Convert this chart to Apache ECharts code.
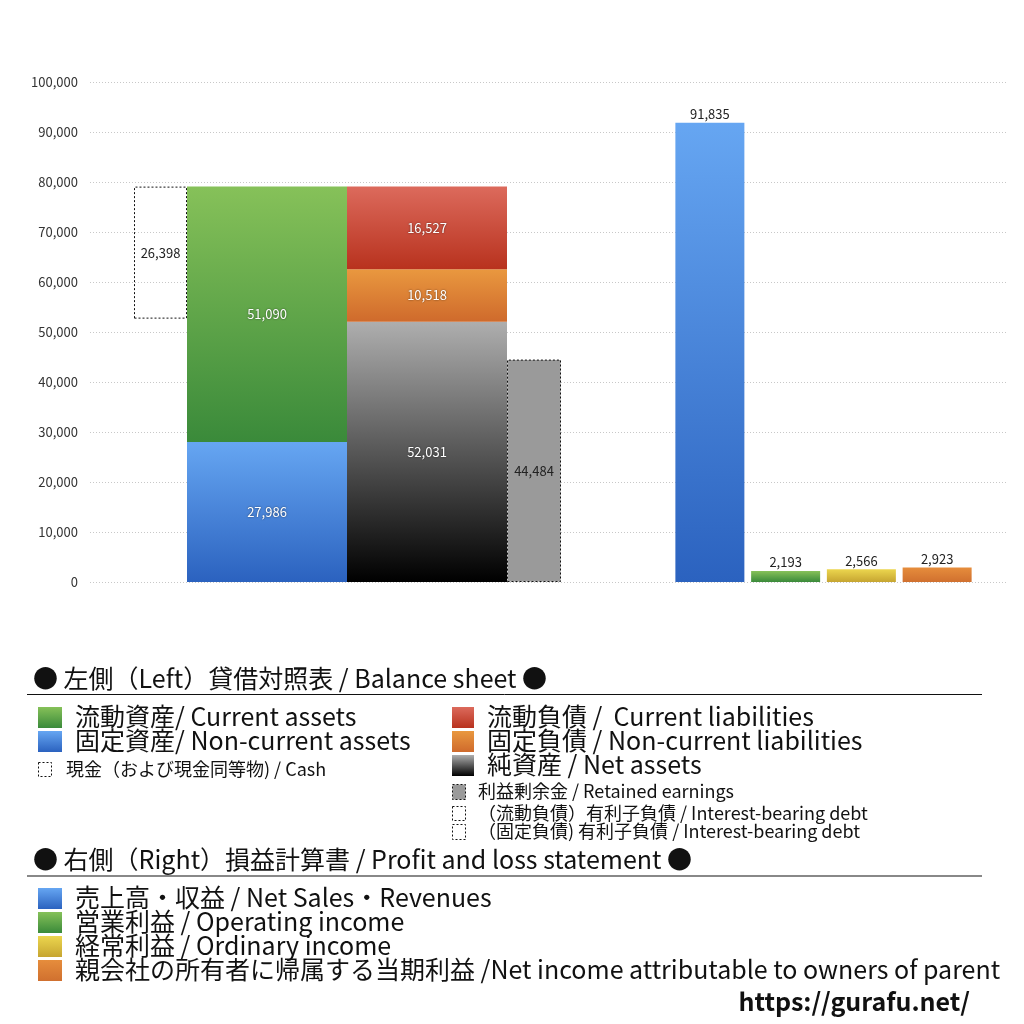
<!DOCTYPE html>
<html>
<head>
<meta charset="utf-8">
<script src="https://cdn.jsdelivr.net/npm/echarts@6/dist/echarts.min.js"></script>
<style>html,body{margin:0;padding:0;background:#fff;}#c{width:1024px;height:1024px;}</style>
</head>
<body>
<div id="c"></div>
<script>
// ---- data ----
const bsCategories = ['貸借対照表'];
const currentAssets = [51090];
const nonCurrentAssets = [27986];
const cash = [26398];
const currentLiabilities = [16527];
const nonCurrentLiabilities = [10518];
const netAssets = [52031];
const retainedEarnings = [44484];

const plCategories = ['売上高・収益', '営業利益', '経常利益', '親会社株主に帰属する当期利益'];
const plValues = [91835, 2193, 2566, 2923];

const yMin = 0, yMax = 100000, yInterval = 10000;

// ---- styles ----
const FONT = '"Noto Sans CJK JP", "Noto Sans", sans-serif';
const G = echarts.graphic.LinearGradient;
const grad = (a, b) => new G(0, 0, 0, 1, [{offset: 0, color: a}, {offset: 1, color: b}]);
const C = {
  green: ['#86c159', '#3a8a3a'],
  blue: ['#66a6f2', '#2b62bf'],
  red: ['#dc6a5c', '#b8321e'],
  orange: ['#e9983f', '#cf6a2c'],
  net: ['#aeaeae', '#000000'],
  yellow: ['#ecd64e', '#c6a531'],
  orange2: ['#e68d3c', '#d0702f']
};
const plColors = [C.blue, C.green, C.yellow, C.orange2];

const fmt = v => Number(v).toLocaleString('en-US');
const insideLabel = {
  show: true, position: 'inside', color: '#fff', fontSize: 13, fontFamily: FONT,
  textShadowColor: 'rgba(0,0,0,0.6)', textShadowBlur: 2,
  formatter: p => fmt(p.value)
};
const darkLabel = {
  show: true, position: 'inside', color: '#222', fontSize: 13, fontFamily: FONT,
  formatter: p => fmt(p.value)
};

const totalAssets = currentAssets.map((v, i) => v + nonCurrentAssets[i]);
const cashBase = totalAssets.map((v, i) => v - cash[i]);

const chart = echarts.init(document.getElementById('c'), null, {renderer: 'canvas'});

const hiddenY = gi => ({
  type: 'value', gridIndex: gi, min: yMin, max: yMax, interval: yInterval,
  show: false
});

const bsBar = (name, stack, data, width, itemStyle, label) => ({
  type: 'bar', name, stack, data, xAxisIndex: 1, yAxisIndex: 1,
  barWidth: width, barGap: '0%', itemStyle, label, emphasis: {disabled: true},
  silent: true
});

const option = {
  animation: false,
  backgroundColor: '#fff',
  grid: [
    {left: 90, right: 17, top: 82, bottom: 442, containLabel: false},
    {left: 90, width: 515, top: 82, bottom: 442},
    {left: 672, width: 303, top: 82, bottom: 442}
  ],
  xAxis: [
    {type: 'category', gridIndex: 0, data: ['a'], show: false},
    {type: 'category', gridIndex: 1, data: bsCategories, show: false},
    {type: 'category', gridIndex: 2, data: plCategories, show: false}
  ],
  yAxis: [
    {
      type: 'value', gridIndex: 0, min: yMin, max: yMax, interval: yInterval,
      axisLine: {show: false}, axisTick: {show: false},
      axisLabel: {color: '#333', fontSize: 13, fontFamily: FONT, margin: 12, formatter: v => fmt(v)},
      splitLine: {show: true, lineStyle: {color: '#c8c8c8', type: [1, 2], width: 1}}
    },
    hiddenY(1),
    hiddenY(2)
  ],
  series: [
    bsBar('cashBase', 'cash', cashBase, 53, {color: 'rgba(0,0,0,0)'}, {show: false}),
    bsBar('現金', 'cash', cash, 53,
      {color: 'rgba(255,255,255,0)', borderColor: '#111', borderWidth: 1, borderType: [2, 2]}, darkLabel),
    bsBar('固定資産', 'assets', nonCurrentAssets, 160, {color: grad(C.blue[0], C.blue[1])}, insideLabel),
    bsBar('流動資産', 'assets', currentAssets, 160, {color: grad(C.green[0], C.green[1])}, insideLabel),
    bsBar('純資産', 'liab', netAssets, 160, {color: grad(C.net[0], C.net[1])}, insideLabel),
    bsBar('固定負債', 'liab', nonCurrentLiabilities, 160, {color: grad(C.orange[0], C.orange[1])}, insideLabel),
    bsBar('流動負債', 'liab', currentLiabilities, 160, {color: grad(C.red[0], C.red[1])}, insideLabel),
    bsBar('利益剰余金', 'ret', retainedEarnings, 54,
      {color: '#9a9a9a', borderColor: '#111', borderWidth: 1, borderType: [2, 2]}, darkLabel),
    {
      type: 'bar', name: 'PL', xAxisIndex: 2, yAxisIndex: 2, barWidth: 69, silent: true,
      data: plValues.map((v, i) => ({value: v, itemStyle: {color: grad(plColors[i][0], plColors[i][1])}})),
      label: {show: true, position: 'top', distance: 2, color: '#222', fontSize: 13, fontFamily: FONT, formatter: p => fmt(p.value)}
    }
  ],
  graphic: []
};

// ---- legend (graphic) ----
const gr = option.graphic;
const txt = (x, y, text, size, extra) => gr.push({
  type: 'text', x, y: y - (size >= 22 ? 2 : 1),
  style: Object.assign({text, fontSize: size, fontFamily: FONT, fill: '#111', verticalAlign: 'middle', align: 'left'}, extra || {})
});
const sw = (x, y, w, h, fill, dashed) => gr.push({
  type: 'rect', shape: {x, y, width: w, height: h},
  style: dashed ? {fill: fill || 'rgba(0,0,0,0)', stroke: '#111', lineWidth: 1, lineDash: [2, 2]} : {fill}
});

txt(33, 680, '● 左側（Left）貸借対照表 / Balance sheet ●', 25);
gr.push({type: 'line', shape: {x1: 27, y1: 694.5, x2: 982, y2: 694.5}, style: {stroke: '#111', lineWidth: 1}});
sw(38, 707, 24, 21, grad(C.green[0], C.green[1]));
txt(75, 718, '流動資産/ Current assets', 25);
sw(38, 731, 24, 21, grad(C.blue[0], C.blue[1]));
txt(75, 742, '固定資産/ Non-current assets', 25);
sw(38.5, 762.5, 13, 14, null, true);
txt(66, 770, '現金（および現金同等物) / Cash', 18);

sw(452, 707, 22, 21, grad(C.red[0], C.red[1]));
txt(487, 718, '流動負債 /  Current liabilities', 25);
sw(452, 731, 22, 21, grad(C.orange[0], C.orange[1]));
txt(487, 742, '固定負債 / Non-current liabilities', 25);
sw(452, 755, 22, 21, grad(C.net[0], C.net[1]));
txt(487, 766, '純資産 / Net assets', 25);
sw(452.5, 784.5, 13, 15, '#9a9a9a', true);
txt(478, 792, '利益剰余金 / Retained earnings', 18);
sw(452.5, 806.5, 13, 14, null, true);
txt(478, 814, '（流動負債）有利子負債 / Interest-bearing debt', 18);
sw(452.5, 824.5, 13, 15, null, true);
txt(478, 832, '（固定負債) 有利子負債 / Interest-bearing debt', 18);

txt(33, 861, '● 右側（Right）損益計算書 / Profit and loss statement ●', 25);
gr.push({type: 'line', shape: {x1: 27, y1: 876, x2: 982, y2: 876}, style: {stroke: '#888', lineWidth: 2}});
sw(38, 888, 24, 21, grad(C.blue[0], C.blue[1]));
txt(75, 899, '売上高・収益 / Net Sales・Revenues', 25);
sw(38, 912, 24, 21, grad(C.green[0], C.green[1]));
txt(75, 923, '営業利益 / Operating income', 25);
sw(38, 936, 24, 21, grad(C.yellow[0], C.yellow[1]));
txt(75, 947, '経常利益 / Ordinary income', 25);
sw(38, 960, 24, 21, grad(C.orange2[0], C.orange2[1]));
txt(75, 971, '親会社の所有者に帰属する当期利益 /Net income attributable to owners of parent', 25);

txt(970, 1003, 'https://gurafu.net/', 25, {fontWeight: 'bold', align: 'right'});

chart.setOption(option);
</script>
</body>
</html>
